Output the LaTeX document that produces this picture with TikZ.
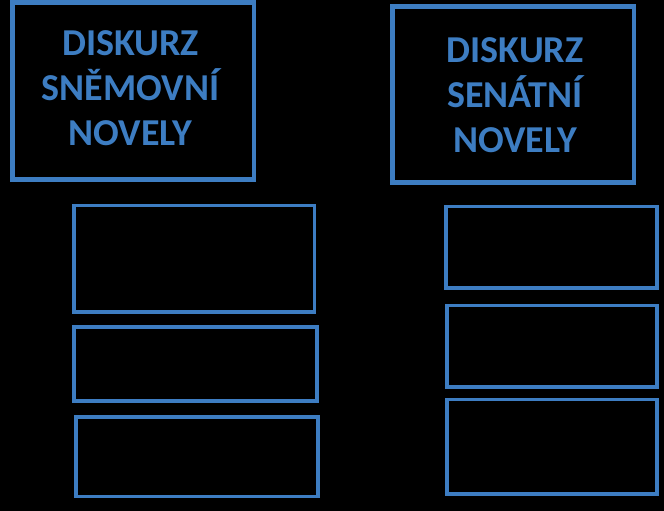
\documentclass[tikz,border=0pt]{standalone}
\usepackage{fontspec}
\setmainfont{Carlito}
\usepackage{tikz}

\definecolor{boxblue}{RGB}{61,125,194}

\begin{document}
\begin{tikzpicture}[x=1pt,y=-1pt]
\fill[black] (0,0) rectangle (664,511);
\useasboundingbox (0,0) rectangle (664,511);
% upper boxes
\draw[boxblue,line width=4.5pt] (12.5,2.5) rectangle (254,179.5);
\draw[boxblue,line width=4.5pt] (392.5,6.5) rectangle (634,182.5);
\node[text=boxblue,align=center,font=\bfseries\fontsize{38}{45}\selectfont] (snem) at (130.5,88.5) {DISKURZ\\SNĚMOVNÍ\\NOVELY};
\node[text=boxblue,align=center,font=\bfseries\fontsize{38}{45}\selectfont] (senat) at (515,95) {DISKURZ\\SENÁTNÍ\\NOVELY};
% lower left boxes
\draw[boxblue,line width=3.2pt] (74,205.5) rectangle (314.5,312);
\draw[boxblue,line width=3.2pt] (74,327) rectangle (317,401);
\draw[boxblue,line width=3.2pt] (76,417) rectangle (318,496.5);
% lower right boxes
\draw[boxblue,line width=3.2pt] (446,206.5) rectangle (657,288);
\draw[boxblue,line width=3.2pt] (447,305.5) rectangle (657,387);
\draw[boxblue,line width=3.2pt] (447,399.5) rectangle (657,494);
\end{tikzpicture}
\end{document}
